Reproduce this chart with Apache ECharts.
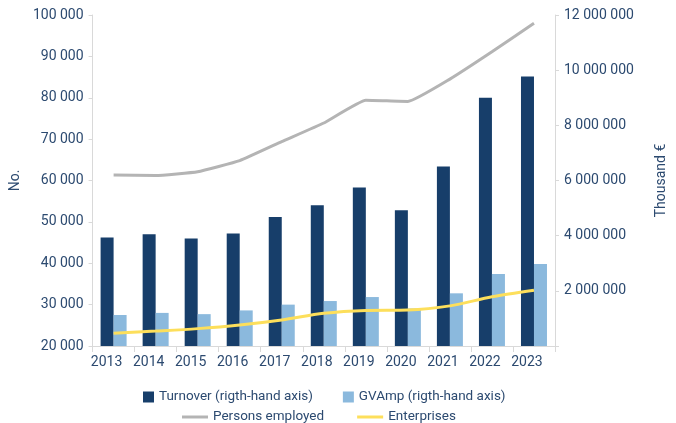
<!DOCTYPE html>
<html><head><meta charset="utf-8">
<script src="https://cdn.jsdelivr.net/npm/echarts@6/dist/echarts.min.js"></script>
<style>html,body{margin:0;padding:0;background:#fff}#c{width:676px;height:423px}</style>
</head><body><div id="c"></div>
<script>
var years = ['2013','2014','2015','2016','2017','2018','2019','2020','2021','2022','2023'];
var turnover = [3930000,4050000,3900000,4080000,4680000,5100000,5750000,4920000,6510000,9000000,9770000];
var gvamp = [1125000,1200000,1155000,1290000,1500000,1630000,1775000,1360000,1910000,2610000,2970000];
var persons = [61300,61200,62100,64800,69400,73900,79400,79100,84500,91100,98000];
var enterprises = [23070,23600,24200,25080,26300,27900,28600,28700,29700,31900,33500];

function fmt(v){ if(v===0) return ''; return String(v).replace(/\B(?=(\d{3})+(?!\d))/g,' '); }
var txt = '#2c4a70';
var chart = echarts.init(document.getElementById('c'));
chart.setOption({
  animation:false,
  textStyle:{fontFamily:'Roboto'},
  grid:{left:91,right:100,top:15,bottom:77},
  legend:[{
    data:[{name:'Turnover (rigth-hand axis)'},{name:'GVAmp (rigth-hand axis)'}],
    left:138, top:385, itemWidth:11, itemHeight:11, itemGap:30, icon:'rect',
    textStyle:{color:txt,fontSize:13.5,fontFamily:'Roboto'}
  },{
    data:[{name:'Persons employed'},{name:'Enterprises'}],
    left:177, top:405, itemWidth:26, itemHeight:3, itemGap:33, icon:'rect',
    textStyle:{color:txt,fontSize:13.5,fontFamily:'Roboto'}
  }],
  xAxis:{type:'category',data:years,
    axisLine:{lineStyle:{color:'#d9d9d9'}},
    axisTick:{show:true,alignWithLabel:false,length:6,lineStyle:{color:'#d9d9d9'}},
    axisLabel:{color:txt,fontSize:14,margin:9,padding:[0,14,0,0]}},
  yAxis:[{type:'value',min:20000,max:100000,interval:10000,name:'No.',
    nameLocation:'middle',nameGap:70,nameRotate:90,nameTextStyle:{color:txt,fontSize:14},
    axisLine:{show:true,lineStyle:{color:'#d9d9d9'}},axisTick:{show:true,length:4,lineStyle:{color:'#d9d9d9'}},
    splitLine:{show:false},axisLabel:{color:txt,fontSize:14,formatter:fmt,margin:9}},
   {type:'value',min:0,max:12000000,interval:2000000,name:'Thousand €',position:'right',
    nameLocation:'middle',nameGap:99,nameRotate:90,nameTextStyle:{color:txt,fontSize:14},
    axisLine:{show:true,lineStyle:{color:'#d9d9d9'}},axisTick:{show:true,length:4,lineStyle:{color:'#d9d9d9'}},
    splitLine:{show:false},axisLabel:{color:txt,fontSize:14,formatter:fmt,margin:9}}],
  series:[
    {name:'Turnover (rigth-hand axis)',type:'bar',yAxisIndex:1,data:turnover,barWidth:13,barGap:'0%',
      itemStyle:{color:'#173e6a'}},
    {name:'GVAmp (rigth-hand axis)',type:'bar',yAxisIndex:1,data:gvamp,barWidth:13,barGap:'0%',
      itemStyle:{color:'#8bb9dd'}},
    {name:'Persons employed',type:'line',yAxisIndex:0,data:persons,smooth:0.12,symbol:'none',
      lineStyle:{color:'#b4b4b4',width:3},itemStyle:{color:'#b4b4b4'}},
    {name:'Enterprises',type:'line',yAxisIndex:0,data:enterprises,smooth:0.3,symbol:'none',
      lineStyle:{color:'#fddf5b',width:3},itemStyle:{color:'#fddf5b'}}
  ]
});
</script></body></html>
